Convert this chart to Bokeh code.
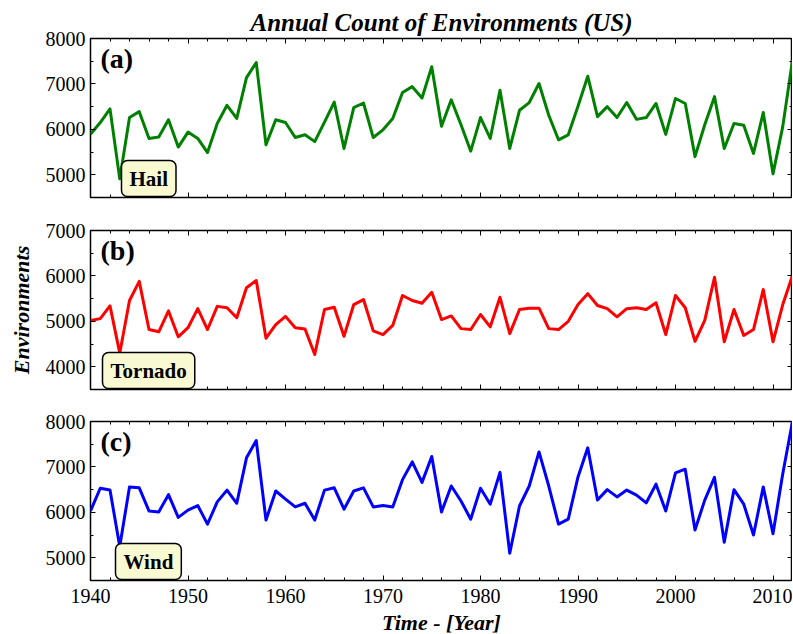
from bokeh.plotting import figure
from bokeh.layouts import column
from bokeh.models import (Range1d, LinearAxis, SingleIntervalTicker, Label,
                          CustomJSTickFormatter)
from bokeh.embed import file_html
from bokeh.resources import INLINE

years = list(range(1940, 2013))

hail = [5890, 6150, 6450, 4910, 6260, 6390, 5800, 5830, 6210, 5610,
        5940, 5800, 5490, 6130, 6530, 6240, 7140, 7470, 5660, 6210,
        6150, 5820, 5880, 5730, 6160, 6600, 5580, 6480, 6580, 5820,
        5990, 6240, 6810, 6940, 6690, 7380, 6070, 6650, 6100, 5520,
        6260, 5800, 6860, 5580, 6420, 6590, 7010, 6310, 5770, 5880,
        6510, 7170, 6280, 6500, 6260, 6590, 6220, 6260, 6570, 5890,
        6680, 6570, 5400, 6100, 6720, 5580, 6130, 6090, 5470, 6370,
        5020, 6060, 7520]

tornado = [5020, 5060, 5340, 4300, 5460, 5880, 4820, 4770, 5230, 4660,
           4860, 5280, 4820, 5330, 5300, 5080, 5740, 5900, 4630, 4930,
           5110, 4860, 4830, 4270, 5260, 5310, 4670, 5370, 5480, 4790,
           4710, 4910, 5570, 5460, 5400, 5640, 5040, 5120, 4840, 4820,
           5150, 4880, 5530, 4730, 5260, 5290, 5290, 4840, 4820, 5000,
           5370, 5610, 5350, 5280, 5100, 5280, 5300, 5260, 5410, 4710,
           5570, 5300, 4560, 5020, 5970, 4550, 5260, 4690, 4820, 5700,
           4550, 5370, 6010]

wind = [6030, 6530, 6490, 5250, 6560, 6540, 6030, 6010, 6390, 5890,
        6050, 6150, 5740, 6230, 6490, 6200, 7200, 7580, 5830, 6470,
        6290, 6120, 6200, 5830, 6490, 6540, 6070, 6470, 6540, 6120,
        6150, 6120, 6720, 7110, 6660, 7230, 6010, 6580, 6250, 5850,
        6530, 6180, 6880, 5100, 6140, 6580, 7330, 6580, 5740, 5850,
        6780, 7420, 6270, 6500, 6340, 6490, 6380, 6210, 6620, 6030,
        6870, 6950, 5610, 6270, 6770, 5340, 6500, 6180, 5500, 6560,
        5530, 6850, 8000]

SERIF = "Liberation Serif"


def style_axis(ax, show_labels):
    ax.axis_line_color = None
    ax.major_tick_in = 5
    ax.major_tick_out = 0
    ax.minor_tick_in = 3
    ax.minor_tick_out = 0
    ax.major_tick_line_color = "black"
    ax.minor_tick_line_color = "black"
    ax.major_tick_line_width = 1
    ax.minor_tick_line_width = 1
    ax.major_label_text_font = SERIF
    ax.major_label_text_color = "black"
    ax.major_label_text_font_size = "20px"
    if not show_labels:
        ax.formatter = CustomJSTickFormatter(code="return '';")
        ax.major_label_standoff = 0


def panel(vals, color, ylo, yhi, tag, name, box_x, top, bottom,
          show_x, title=None, ylabel=None):
    p = figure(frame_width=702, frame_height=159,
               x_range=Range1d(1940, 2012), y_range=Range1d(ylo, yhi),
               output_backend="svg", toolbar_location=None,
               min_border_left=90, min_border_right=0,
               min_border_top=top, min_border_bottom=bottom,
               x_axis_location=None, y_axis_location=None)
    p.grid.visible = False
    p.outline_line_color = "black"
    p.outline_line_width = 1.5
    p.background_fill_color = "white"
    p.border_fill_color = "white"

    xt = SingleIntervalTicker(interval=10, num_minor_ticks=5)
    yt = SingleIntervalTicker(interval=1000, num_minor_ticks=2)

    bx = LinearAxis(ticker=xt)
    style_axis(bx, show_x)
    if show_x:
        bx.major_label_standoff = 8
        bx.axis_label = "Time - [Year]"
        bx.axis_label_text_font = SERIF
        bx.axis_label_text_font_style = "bold italic"
        bx.axis_label_text_font_size = "22px"
        bx.axis_label_text_color = "black"
        bx.axis_label_standoff = 4
    p.add_layout(bx, "below")

    tx = LinearAxis(ticker=xt)
    style_axis(tx, False)
    p.add_layout(tx, "above")

    ly = LinearAxis(ticker=yt)
    style_axis(ly, True)
    ly.major_label_standoff = 5
    if ylabel:
        ly.axis_label = ylabel
        ly.axis_label_text_font = SERIF
        ly.axis_label_text_font_style = "bold italic"
        ly.axis_label_text_font_size = "22px"
        ly.axis_label_text_color = "black"
        ly.axis_label_standoff = 9
    p.add_layout(ly, "left")

    ry = LinearAxis(ticker=yt)
    style_axis(ry, False)
    p.add_layout(ry, "right")

    p.line(years, vals, line_color=color, line_width=3, line_join="round")

    p.add_layout(Label(x=10, y=139, x_units="screen", y_units="screen",
                       text=tag, text_font=SERIF, text_font_style="bold",
                       text_color="black",
                       text_font_size="28px", text_baseline="middle",
                       text_align="left"))
    p.add_layout(Label(x=box_x, y=1, x_units="screen", y_units="screen",
                       text=name, text_font=SERIF, text_font_style="bold",
                       text_color="black",
                       text_font_size="21px", text_baseline="bottom",
                       text_align="left",
                       padding=dict(left=8, right=8, top=6, bottom=6),
                       background_fill_color="#fafad2",
                       border_line_color="black", border_line_width=1.5,
                       border_radius=6))
    if title:
        p.title.text = title
        p.title.align = "center"
        p.title.text_font = SERIF
        p.title.text_font_style = "bold italic"
        p.title.text_font_size = "25px"
        p.title.text_color = "black"
        p.title.standoff = 6
    return p


pa = panel(hail, "#008000", 4500, 8000, "(a)", "Hail", 31, 38, 16, False,
           title="Annual Count of Environments (US)")
pb = panel(tornado, "#ff0000", 3500, 7000, "(b)", "Tornado", 12, 17, 16, False,
           ylabel="Environments")
pc = panel(wind, "#0000ff", 4500, 8000, "(c)", "Wind", 25, 16, 54, True)

layout = column(pa, pb, pc, spacing=0)
open("out.html", "w").write(file_html(layout, INLINE))
